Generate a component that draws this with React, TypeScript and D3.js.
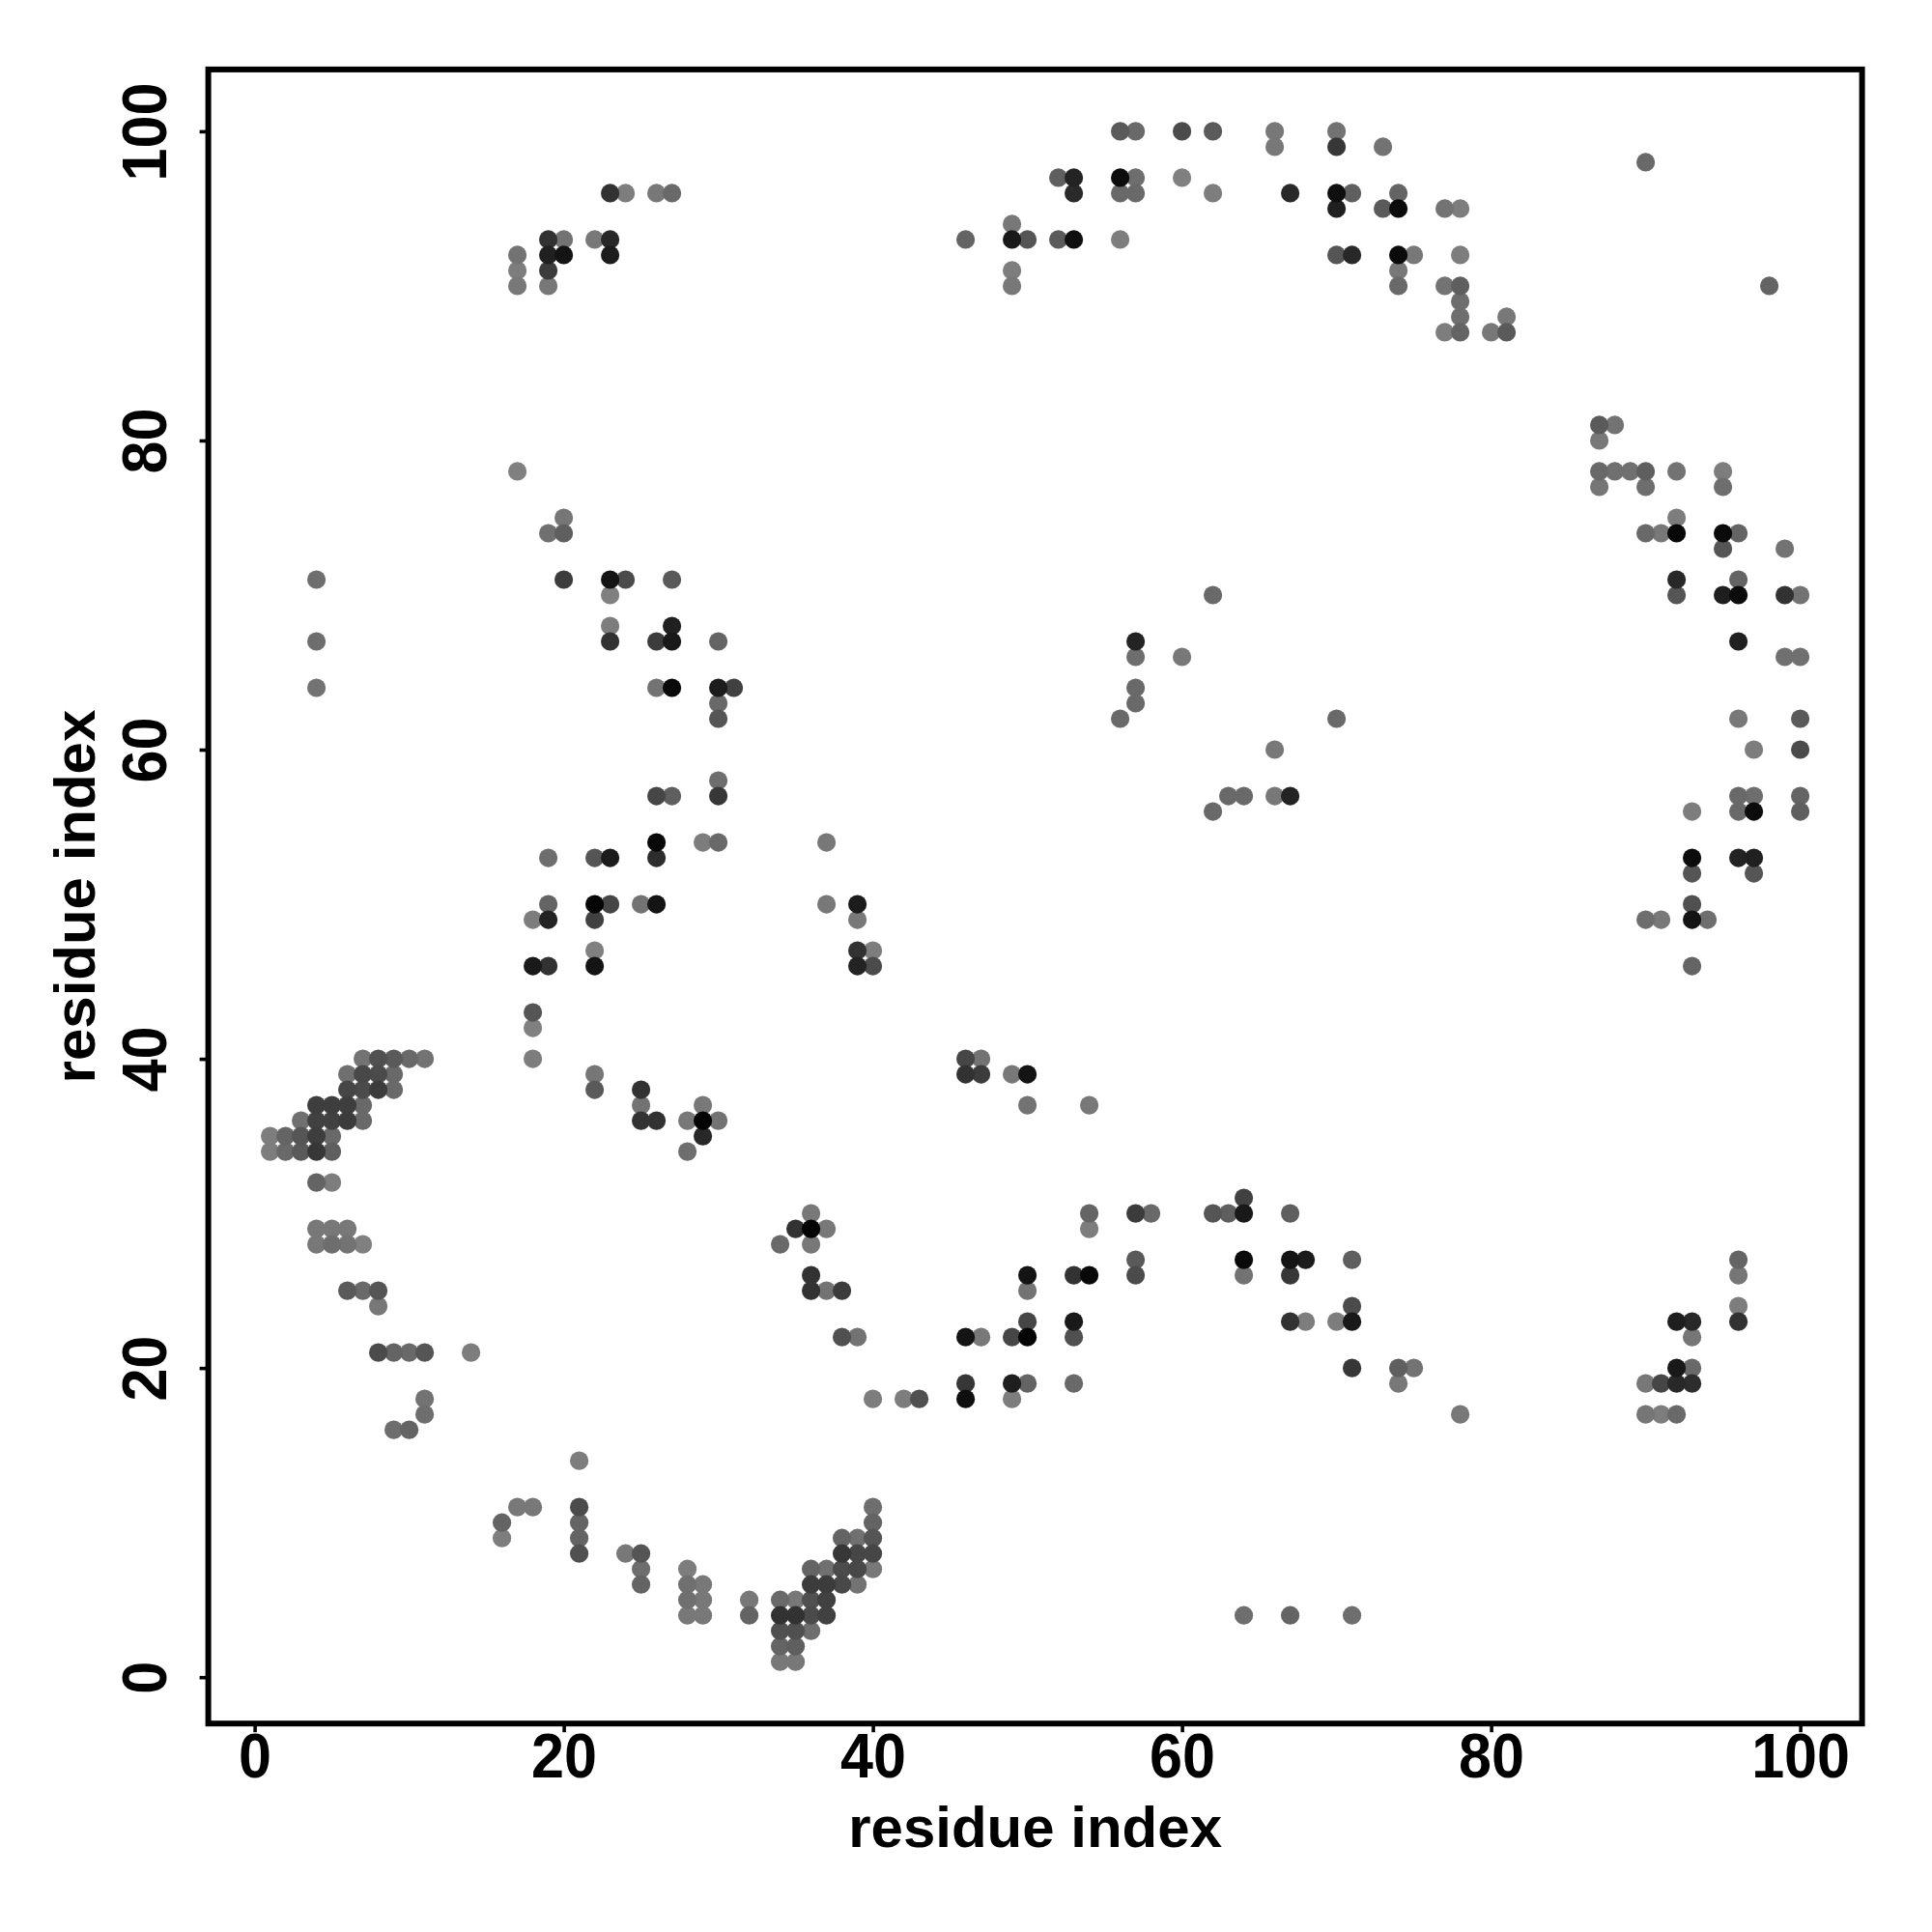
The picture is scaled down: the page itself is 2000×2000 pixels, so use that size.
import * as d3 from "d3";
import React, { useEffect, useRef } from "react";

type Contact = [number, number, number]; // residue i, residue j, gray level

const tickValues = [0, 20, 40, 60, 80, 100];
const axisLabel = "residue index";

const lowerLeftContacts: Contact[] = [
  [7, 40, 115], [8, 40, 80], [9, 40, 90], [10, 40, 105], [11, 40, 115],
  [6, 39, 112], [7, 39, 72], [8, 39, 75], [9, 39, 105],
  [6, 38, 70], [7, 38, 75], [8, 38, 60], [9, 38, 105],
  [4, 37, 62], [5, 37, 62], [6, 37, 62], [7, 37, 105],
  [3, 36, 112], [4, 36, 65], [5, 36, 65], [6, 36, 60], [7, 36, 105],
  [1, 35, 125], [2, 35, 100], [3, 35, 85], [4, 35, 62], [5, 35, 105],
  [1, 34, 125], [2, 34, 105], [3, 34, 90], [4, 34, 55], [5, 34, 95],
  [4, 32, 100], [5, 32, 125],
  [4, 29, 120], [5, 29, 120], [6, 29, 120],
  [4, 28, 120], [5, 28, 110], [6, 28, 115], [7, 28, 128],
  [6, 25, 90], [7, 25, 105], [8, 25, 85], [8, 24, 120],
  [8, 21, 75], [9, 21, 100], [10, 21, 105], [11, 21, 85], [14, 21, 125],
  [11, 18, 115], [11, 17, 110], [9, 16, 110], [10, 16, 100],
  [4, 71, 110], [4, 67, 110], [4, 64, 115],
];

const bottomContacts: Contact[] = [
  [21, 14, 125], [17, 11, 120], [18, 11, 120], [21, 11, 75],
  [16, 10, 100], [21, 10, 100], [16, 9, 125], [21, 9, 100],
  [21, 8, 80], [24, 8, 120], [25, 8, 85], [25, 7, 110], [28, 7, 125],
  [25, 6, 100], [28, 6, 112], [29, 6, 120],
  [28, 5, 112], [29, 5, 120], [32, 5, 120],
  [28, 4, 120], [29, 4, 120], [32, 4, 100],
  [40, 11, 110], [40, 10, 100],
  [38, 9, 100], [39, 9, 112], [40, 9, 85],
  [38, 8, 55], [39, 8, 70], [40, 8, 70],
  [36, 7, 100], [37, 7, 112], [38, 7, 75], [39, 7, 72], [40, 7, 120],
  [36, 6, 60], [37, 6, 60], [38, 6, 72], [39, 6, 115],
  [34, 5, 105], [35, 5, 120], [36, 5, 80], [37, 5, 65],
  [34, 4, 50], [35, 4, 50], [36, 4, 75], [37, 4, 65],
  [34, 3, 80], [35, 3, 80], [36, 3, 110],
  [34, 2, 100], [35, 2, 95], [34, 1, 120], [35, 1, 120],
];

const middleLeftContacts: Contact[] = [
  [18, 43, 85], [18, 42, 128], [18, 40, 125], [22, 39, 118],
  [22, 38, 90], [25, 38, 50], [25, 37, 115], [29, 37, 120],
  [25, 36, 50], [26, 36, 50], [28, 36, 120], [29, 36, 5], [30, 36, 115],
  [29, 35, 40], [28, 34, 110],
  [36, 30, 120], [35, 29, 50], [36, 29, 5], [37, 29, 120],
  [34, 28, 105], [36, 28, 120], [36, 26, 50],
  [36, 25, 50], [37, 25, 115], [38, 25, 60],
  [38, 22, 80], [39, 22, 115],
  [40, 18, 125], [42, 18, 125], [43, 18, 80],
];

const upperLeftContacts: Contact[] = [
  [23, 96, 50], [24, 96, 125], [26, 96, 120], [27, 96, 105],
  [19, 93, 50], [20, 93, 115], [22, 93, 120], [23, 93, 40],
  [17, 92, 115], [19, 92, 32], [20, 92, 20], [23, 92, 28],
  [17, 91, 125], [19, 91, 60], [17, 90, 120], [19, 90, 120],
  [17, 78, 128], [20, 75, 118], [19, 74, 112], [20, 74, 95],
  [20, 71, 60], [23, 71, 20], [24, 71, 75], [27, 71, 90], [23, 70, 128],
  [23, 68, 125], [27, 68, 32],
  [23, 67, 50], [26, 67, 60], [27, 67, 25], [30, 67, 100],
  [26, 64, 115], [27, 64, 10], [30, 64, 28], [31, 64, 65],
  [30, 63, 105], [30, 62, 85], [30, 58, 110],
  [26, 57, 70], [27, 57, 95], [30, 57, 55],
  [26, 54, 8], [29, 54, 125], [30, 54, 105], [37, 54, 120],
  [19, 53, 110], [22, 53, 85], [23, 53, 28], [26, 53, 45],
  [19, 50, 100], [22, 50, 5], [23, 50, 70], [25, 50, 115], [26, 50, 20], [37, 50, 120], [39, 50, 28],
  [18, 49, 125], [19, 49, 35], [22, 49, 65], [39, 49, 120],
  [22, 47, 128], [39, 47, 50], [40, 47, 125],
  [18, 46, 25], [19, 46, 50], [22, 46, 20], [39, 46, 35], [40, 46, 75],
];

const lowerMiddleContacts: Contact[] = [
  [46, 40, 70], [47, 40, 115], [46, 39, 50], [47, 39, 60], [49, 39, 120], [50, 39, 20],
  [50, 37, 115], [54, 37, 120],
  [64, 31, 65],
  [54, 30, 100], [57, 30, 60], [58, 30, 105], [62, 30, 85], [63, 30, 95], [64, 30, 25], [67, 30, 95],
  [54, 29, 125],
  [57, 27, 90], [64, 27, 10], [67, 27, 20], [68, 27, 28], [71, 27, 95],
  [50, 26, 20], [53, 26, 50], [54, 26, 8], [57, 26, 75], [64, 26, 115], [67, 26, 55],
  [50, 25, 115], [71, 24, 75],
  [50, 23, 70], [53, 23, 25], [67, 23, 50], [68, 23, 125], [70, 23, 125], [71, 23, 25],
  [46, 22, 20], [47, 22, 120], [49, 22, 70], [50, 22, 5], [53, 22, 80],
  [71, 20, 55], [74, 20, 95], [75, 20, 115],
  [46, 19, 55], [49, 19, 30], [50, 19, 100], [53, 19, 105], [74, 19, 120],
  [46, 18, 15], [49, 18, 125], [78, 17, 120],
  [64, 4, 110], [67, 4, 100], [71, 4, 110],
];

const topContacts: Contact[] = [
  [56, 100, 90], [57, 100, 105], [60, 100, 75], [62, 100, 90], [66, 100, 120], [70, 100, 115],
  [66, 99, 120], [70, 99, 55], [73, 99, 115],
  [52, 97, 95], [53, 97, 35], [56, 97, 12], [57, 97, 110], [60, 97, 128],
  [53, 96, 42], [56, 96, 105], [57, 96, 105], [62, 96, 125], [67, 96, 40], [70, 96, 15], [71, 96, 95], [74, 96, 100],
  [70, 95, 32], [73, 95, 90], [74, 95, 12], [77, 95, 115], [78, 95, 125],
  [49, 94, 120],
  [46, 93, 100], [49, 93, 25], [50, 93, 85], [52, 93, 90], [53, 93, 15], [56, 93, 125],
  [70, 92, 85], [71, 92, 40], [74, 92, 10], [75, 92, 120], [78, 92, 125],
  [49, 91, 125], [74, 91, 120], [49, 90, 120], [74, 90, 105], [77, 90, 115], [78, 90, 95],
  [78, 89, 110], [78, 88, 110], [81, 88, 120],
  [77, 87, 125], [78, 87, 100], [80, 87, 120], [81, 87, 90],
  [90, 98, 105], [98, 90, 100],
  [62, 70, 105], [57, 67, 35], [57, 66, 110], [60, 66, 120], [57, 64, 105], [57, 63, 105], [56, 62, 105],
  [70, 62, 105], [66, 60, 120], [63, 57, 105], [64, 57, 105], [66, 57, 120], [67, 57, 35], [62, 56, 105],
];

const rightContacts: Contact[] = [
  [87, 81, 90], [88, 81, 115], [87, 80, 120],
  [87, 78, 105], [88, 78, 112], [89, 78, 112], [90, 78, 95], [92, 78, 115], [95, 78, 125],
  [87, 77, 118], [90, 77, 110], [95, 77, 110], [92, 75, 125],
  [90, 74, 105], [91, 74, 120], [92, 74, 8], [95, 74, 10], [96, 74, 100],
  [95, 73, 85], [99, 73, 115], [92, 71, 40], [96, 71, 100],
  [92, 70, 85], [95, 70, 30], [96, 70, 12], [99, 70, 50], [100, 70, 115],
  [96, 67, 32], [99, 66, 112], [100, 66, 112],
  [96, 62, 120], [100, 62, 90], [97, 60, 125], [100, 60, 75],
  [96, 57, 105], [97, 57, 110], [100, 57, 100],
  [93, 56, 125], [96, 56, 105], [97, 56, 12], [100, 56, 95],
  [93, 53, 12], [96, 53, 35], [97, 53, 32], [93, 52, 85], [97, 52, 85],
  [93, 50, 80], [90, 49, 110], [91, 49, 120], [93, 49, 20], [94, 49, 110], [93, 46, 100],
  [96, 27, 100], [96, 26, 118], [96, 24, 125],
  [92, 23, 30], [93, 23, 40], [96, 23, 50], [93, 22, 118],
  [92, 20, 25], [93, 20, 105],
  [90, 19, 120], [91, 19, 70], [92, 19, 40], [93, 19, 45],
  [90, 17, 118], [91, 17, 125], [92, 17, 105],
];

const App = () => {
  const svgRef = useRef<SVGSVGElement>(null);

  useEffect(() => {
    const svg = d3.select(svgRef.current);
    svg.selectAll("*").remove();

    const x = d3.scaleLinear().domain([-3, 104]).range([215.6, 1927.6]);
    const y = d3.scaleLinear().domain([-3, 104]).range([1784.2, 71.9]);

    const contacts = [
      ...lowerLeftContacts,
      ...bottomContacts,
      ...middleLeftContacts,
      ...upperLeftContacts,
      ...lowerMiddleContacts,
      ...topContacts,
      ...rightContacts,
    ].sort((a, b) => b[2] - a[2]); // darker points end up on top

    svg
      .append("g")
      .selectAll("circle")
      .data(contacts)
      .enter()
      .append("circle")
      .attr("cx", (d) => x(d[0]))
      .attr("cy", (d) => y(d[1]))
      .attr("r", 9.6)
      .attr("fill", (d) => d3.rgb(d[2], d[2], d[2]).formatHex());

    // Box
    svg
      .append("rect")
      .attr("x", x(-3))
      .attr("y", y(104))
      .attr("width", x(104) - x(-3))
      .attr("height", y(-3) - y(104))
      .attr("fill", "none")
      .attr("stroke", "#000")
      .attr("stroke-width", 6);

    // Axes
    const xAxis = svg
      .append("g")
      .attr("transform", `translate(0,${y(-3)})`)
      .call(d3.axisBottom(x).tickValues(tickValues).tickSize(9).tickFormat(d3.format("d")));
    const yAxis = svg
      .append("g")
      .attr("transform", `translate(${x(-3)},0)`)
      .call(d3.axisLeft(y).tickValues(tickValues).tickSize(9).tickFormat(d3.format("d")));

    [xAxis, yAxis].forEach((axis) => {
      axis.select(".domain").remove();
      axis.selectAll("line").attr("stroke", "#000").attr("stroke-width", 3.6);
      axis
        .selectAll("text")
        .attr("fill", "#000")
        .style("font-family", "'Liberation Sans'")
        .style("font-weight", "bold")
        .style("font-size", "65px");
    });
    // the digits in the reference are a bit narrower than Liberation's
    xAxis
      .selectAll("text")
      .attr("y", 0)
      .attr("dy", 0)
      .attr("transform", `translate(0,${1840 - y(-3)}) scale(0.94,1)`);
    yAxis
      .selectAll("text")
      .attr("x", 0)
      .attr("dy", 0)
      .attr("text-anchor", "middle")
      .attr("transform", `translate(${171.7 - x(-3)},0) rotate(-90) scale(0.94,1)`);

    // Axis titles
    const title = (sel: d3.Selection<SVGTextElement, unknown, null, undefined>) =>
      sel
        .attr("text-anchor", "middle")
        .style("font-family", "'Liberation Sans'")
        .style("font-weight", "bold")
        .style("font-size", "60px")
        .text(axisLabel);
    svg
      .append("text")
      .attr("x", (x(-3) + x(104)) / 2)
      .attr("y", 1912)
      .call(title);
    svg
      .append("text")
      .attr("transform", `translate(98,${(y(-3) + y(104)) / 2}) rotate(-90)`)
      .call(title);
  }, []);

  return (
    <svg
      ref={svgRef}
      width={2000}
      height={2000}
      style={{ position: "absolute", left: 0, top: 0, background: "#fff" }}
    />
  );
};

export default App;
